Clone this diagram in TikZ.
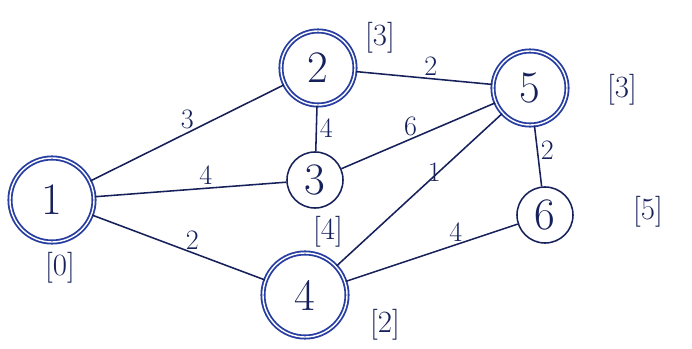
\documentclass[tikz,border=0pt]{standalone}
\usepackage{tikz}
\usetikzlibrary{positioning}
\definecolor{ink}{RGB}{22,32,90}
\definecolor{inkblue}{RGB}{40,62,160}
\tikzset{
  vert/.style={circle,draw=ink,line width=1.1pt,inner sep=0pt,text=ink,font=\fontsize{32}{34}\selectfont},
  seen/.style={vert,draw=inkblue,line width=1.3pt,double=white,double distance=1pt},
  edgeline/.style={draw=ink,line width=1.1pt},
  wt/.style={text=ink,font=\fontsize{20}{22}\selectfont,inner sep=2pt},
  dist/.style={text=ink,font=\fontsize{22}{24}\selectfont}
}
\begin{document}
\begin{tikzpicture}[x=0.025cm,y=-0.025cm]
\useasboundingbox (0,0) rectangle (692,349);
% vertices
\node[seen,minimum width=2.0cm,minimum height=2.1cm] (n1) at (52,200) {1};
\node[seen,minimum size=1.85cm] (n2) at (318,68) {2};
\node[vert,minimum size=1.4cm] (n3) at (315,180) {3};
\node[seen,minimum width=2.1cm,minimum height=1.8cm] (n4) at (305,295) {4};
\node[seen,minimum size=1.85cm] (n5) at (530,88) {5};
\node[vert,minimum size=1.4cm] (n6) at (545,215) {6};
% edges with weights
\draw[edgeline] (n1) -- (n2) node[wt,pos=0.5,above] {3};
\draw[edgeline] (n1) -- (n3) node[wt,pos=0.58,above] {4};
\draw[edgeline] (n1) -- (n4) node[wt,pos=0.58,above] {2};
\draw[edgeline] (n2) -- (n3) node[wt,pos=0.5,right] {4};
\draw[edgeline] (n2) -- (n5) node[wt,pos=0.55,above] {2};
\draw[edgeline] (n3) -- (n5) node[wt,pos=0.45,above] {6};
\draw[edgeline] (n4) -- (n5) node[wt,pos=0.53,above right] {1};
\draw[edgeline] (n4) -- (n6) node[wt,pos=0.64,above] {4};
\draw[edgeline] (n5) -- (n6) node[wt,pos=0.4,right] {2};
% distances
\node[dist] (d1) at (60,268) {[0]};
\node[dist] (d2) at (380,38) {[3]};
\node[dist] (d3) at (328,232) {[4]};
\node[dist] (d4) at (385,325) {[2]};
\node[dist] (d5) at (622,90) {[3]};
\node[dist] (d6) at (648,212) {[5]};
\end{tikzpicture}
\end{document}
